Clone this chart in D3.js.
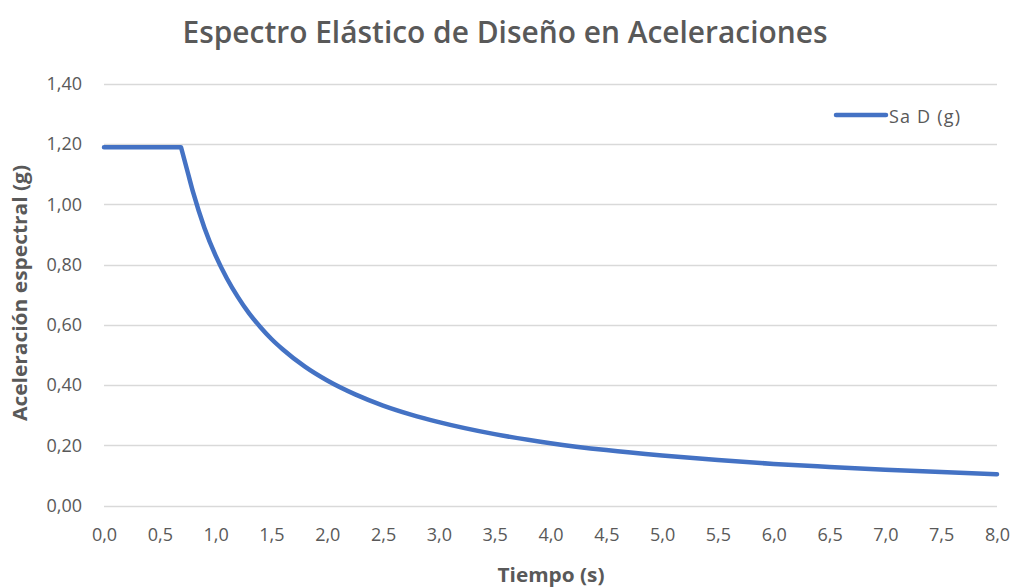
<!DOCTYPE html>
<html><head><meta charset="utf-8">
<script src="https://cdn.jsdelivr.net/npm/d3@7"></script>
<style>
body{margin:0;background:#fff;}
svg{display:block;}
</style></head>
<body>
<svg id="chart" width="1012" height="588"></svg>
<script>
const chartTitle = "Espectro Elástico de Diseño en Aceleraciones";
const xTitle = "Tiempo (s)";
const yTitle = "Aceleración espectral (g)";
const seriesName = "Sa D (g)";
const periods = [0,0.1,0.2,0.3,0.4,0.5,0.6,0.69,0.75,0.8,0.9,1.0,1.1,1.2,1.3,1.4,1.5,1.6,1.8,2.0,2.25,2.5,2.75,3.0,3.5,4.0,4.5,5.0,5.5,6.0,6.5,7.0,7.5,8.0];
const saValues = [1.19,1.19,1.19,1.19,1.19,1.19,1.19,1.19,1.107,1.038,0.922,0.83,0.755,0.692,0.638,0.593,0.553,0.519,0.461,0.415,0.369,0.332,0.302,0.277,0.237,0.207,0.184,0.166,0.151,0.138,0.128,0.119,0.111,0.104];
const xTicks = [0,0.5,1,1.5,2,2.5,3,3.5,4,4.5,5,5.5,6,6.5,7,7.5,8];
const yTicks = [0,0.2,0.4,0.6,0.8,1.0,1.2,1.4];

const svg = d3.select("#chart");
const plotLeft = 104, plotRight = 997, plotTop = 84, plotBottom = 505.5;
const x = d3.scaleLinear().domain([0,8]).range([plotLeft,plotRight]);
const y = d3.scaleLinear().domain([0,1.4]).range([plotBottom,plotTop]);
const font = "'Open Sans', 'Noto Sans', sans-serif";
const fmtX = d => d.toFixed(1).replace(".", ",");
const fmtY = d => d.toFixed(2).replace(".", ",");

// gridlines
svg.append("g").selectAll("line").data(yTicks).join("line")
  .attr("x1", plotLeft).attr("x2", plotRight)
  .attr("y1", d => Math.round(y(d)) + 0.5).attr("y2", d => Math.round(y(d)) + 0.5)
  .attr("stroke", "#d9d9d9").attr("stroke-width", 1.3);

// y axis labels
const yAxis = d3.axisLeft(y).tickValues(yTicks).tickFormat(fmtY).tickSize(0).tickPadding(22);
const gy = svg.append("g").attr("transform", `translate(${plotLeft},0)`).call(yAxis);
gy.select(".domain").remove();
gy.selectAll("text").attr("font-family", font).attr("font-size", 18).attr("fill", "#595959");

// x axis labels
const xAxis = d3.axisBottom(x).tickValues(xTicks).tickFormat(fmtX).tickSize(0).tickPadding(23);
const gx = svg.append("g").attr("transform", `translate(0,${plotBottom})`).call(xAxis);
gx.select(".domain").remove();
gx.selectAll("text").attr("font-family", font).attr("font-size", 18).attr("fill", "#595959");

// line: plateau drawn straight, descending branch smoothed
const data = periods.map((t,i) => ({t, v: saValues[i]}));
const cornerIdx = saValues.lastIndexOf(d3.max(saValues));
const linear = d3.line().x(d => x(d.t)).y(d => y(d.v));
const smooth = d3.line().x(d => x(d.t)).y(d => y(d.v)).curve(d3.curveMonotoneX);
const pathD = linear(data.slice(0, cornerIdx + 1)) + smooth(data.slice(cornerIdx)).replace(/^M[^A-Za-z]*/, "");
svg.append("path").attr("d", pathD)
  .attr("fill", "none").attr("stroke", "#4472C4").attr("stroke-width", 4.5)
  .attr("stroke-linejoin", "round").attr("stroke-linecap", "round");

// title
svg.append("text").attr("x", 505).attr("y", 43).attr("text-anchor", "middle")
  .attr("font-family", font).attr("font-size", 31).attr("font-weight", 600).attr("fill", "#595959")
  .attr("textLength", 645).attr("lengthAdjust", "spacingAndGlyphs")
  .text(chartTitle);

// axis titles
svg.append("text").attr("x", 551).attr("y", 582).attr("text-anchor", "middle")
  .attr("font-family", font).attr("font-size", 20).attr("font-weight", "bold").attr("fill", "#595959")
  .attr("textLength", 107).attr("lengthAdjust", "spacingAndGlyphs")
  .text(xTitle);
svg.append("text").attr("transform", "translate(27,293) rotate(-90)").attr("text-anchor", "middle")
  .attr("font-family", font).attr("font-size", 20).attr("font-weight", "bold").attr("fill", "#595959")
  .attr("textLength", 256).attr("lengthAdjust", "spacingAndGlyphs")
  .text(yTitle);

// legend
svg.append("line").attr("x1", 836).attr("x2", 886).attr("y1", 115).attr("y2", 115)
  .attr("stroke", "#4472C4").attr("stroke-width", 4.5).attr("stroke-linecap", "round");
svg.append("text").attr("x", 889).attr("y", 123)
  .attr("font-family", font).attr("font-size", 18).attr("fill", "#595959")
  .attr("textLength", 71).attr("lengthAdjust", "spacing")
  .text(seriesName);
</script>
</body></html>
